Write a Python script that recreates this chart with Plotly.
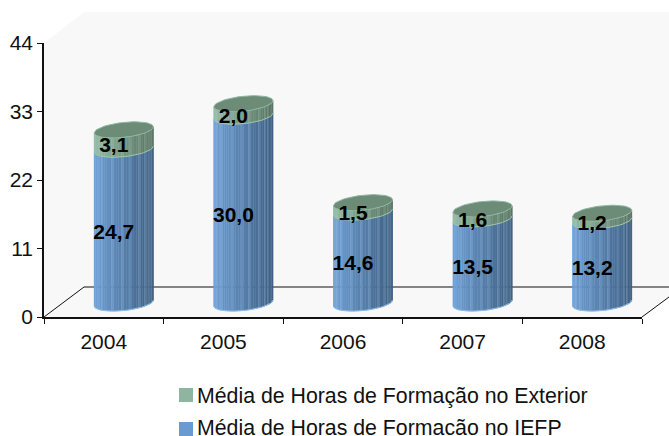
import math
import plotly.graph_objects as go

years = ["2004", "2005", "2006", "2007", "2008"]
iefp = [24.7, 30.0, 14.6, 13.5, 13.2]
exterior = [3.1, 2.0, 1.5, 1.6, 1.2]
value_labels_iefp = ["24,7", "30,0", "14,6", "13,5", "13,2"]
value_labels_ext = ["3,1", "2,0", "1,5", "1,6", "1,2"]
y_ticks = [0, 11, 22, 33, 44]
name_ext = "Média de Horas de Formação no Exterior"
name_iefp = "Média de Horas de Formacão no IEFP"
color_ext = "#8db5a0"
color_iefp = "#6a9bd0"

W, H = 669, 436
L, R, T, B = 44, 642, 43, 317
PX = (R - L) / 5          # pixels per category
PY = (B - T) / 44         # pixels per unit
ux = lambda p: p / PX
uy = lambda p: p / PY

CX_OFF, BASE_OFF = ux(20), uy(14)
RX, RY, SKEW = ux(29.5), uy(7.5), uy(3)
N = 36
STREAK = {3, 5, 8, 13, 17, 20, 24, 27, 29, 32}


def mix(a, b, t):
    return "#%02x%02x%02x" % tuple(round(a[k] + (b[k] - a[k]) * t) for k in range(3))


def pap(px, py):
    return px / W, 1 - py / H


def poly(points):
    d = ""
    for k, (px, py) in enumerate(points):
        a, b = pap(px, py)
        d += ("M" if k == 0 else "L") + f"{a:.5f},{b:.5f} "
    return d + "Z"


def seg(p, q):
    a, b = pap(*p)
    c, d = pap(*q)
    return dict(type="line", xref="paper", yref="paper", layer="below",
                line=dict(color="#111111", width=1), x0=a, y0=b, x1=c, y1=d)


def swatch(y_top, color):
    return dict(type="path", xref="paper", yref="paper", layer="above", line=dict(width=0),
                fillcolor=color,
                path=poly([(179, y_top), (193, y_top), (193, y_top + 14), (179, y_top + 14)]))


shapes = [
    dict(type="path", xref="paper", yref="paper", layer="below", line=dict(width=0),
         fillcolor="#f8f8f8", path=poly([(L, T), (84, 12), (669, 12), (669, 287), (84, 287), (L, B)])),
    dict(type="path", xref="paper", yref="paper", layer="below", line=dict(width=0),
         fillcolor="#f8f8f8", path=poly([(L, B), (84, 287), (669, 287), (669, 297), (R, B)])),
    seg((L, B), (84, 287)),
    seg((84, 287), (669, 287)),
    seg((R, B), (669, 297)),
    swatch(388, color_ext),
    swatch(422, color_iefp),
]

fig = go.Figure()
xmin, xmax = -0.5, 4.5

# cylinder sides: one trace per angular strip, left (light) to right (dark)
for layer in range(2):
    for i in range(N):
        t0 = math.pi - math.pi * i / N
        t1 = math.pi - math.pi * (i + 1) / N
        f = (1 + math.cos((t0 + t1) / 2)) / 2
        if layer == 0:
            col = mix((110, 160, 214), (62, 94, 128), f)
            light = (150, 190, 232)
        else:
            col = mix((146, 188, 165), (88, 114, 98), f)
            light = (160, 195, 175)
        if i in STREAK:
            col = mix(tuple(int(col[j:j + 2], 16) for j in (1, 3, 5)), light, 0.25)
        xs, ys = [], []
        for c in range(5):
            cx = c + CX_OFF
            y0 = BASE_OFF + (0 if layer == 0 else iefp[c])
            y1 = BASE_OFF + (iefp[c] if layer == 0 else iefp[c] + exterior[c])
            for yy, tt in ((y0, t0), (y0, t1), (y1, t1), (y1, t0), (y0, t0)):
                xs.append(cx + RX * math.cos(tt))
                ys.append(yy - RY * math.sin(tt) + SKEW * math.cos(tt))
            xs.append(None)
            ys.append(None)
        fig.add_trace(go.Scatter(x=xs, y=ys, mode="lines", fill="toself", fillcolor=col,
                                 line=dict(color=col, width=0.4), cliponaxis=False,
                                 showlegend=False, hoverinfo="skip"))

# seam and bottom outlines, top ellipses
TS = [2 * math.pi * k / 60 for k in range(61)]
FRONT = [math.pi + math.pi * k / 30 for k in range(31)]
for layer, colr in ((0, "#8fbce8"), (1, "#9cc7ae")):
    xs, ys = [], []
    for c in range(5):
        cx = c + CX_OFF
        y0 = BASE_OFF + (0 if layer == 0 else iefp[c])
        for t in FRONT:
            xs.append(cx + RX * math.cos(t))
            ys.append(y0 + RY * math.sin(t) + SKEW * math.cos(t))
        xs.append(None)
        ys.append(None)
    fig.add_trace(go.Scatter(x=xs, y=ys, mode="lines", line=dict(color=colr, width=1),
                             cliponaxis=False, showlegend=False, hoverinfo="skip"))

xs, ys = [], []
for c in range(5):
    cx = c + CX_OFF
    y1 = BASE_OFF + iefp[c] + exterior[c]
    for t in TS:
        xs.append(cx + RX * math.cos(t))
        ys.append(y1 + RY * math.sin(t) + SKEW * math.cos(t))
    xs.append(None)
    ys.append(None)
fig.add_trace(go.Scatter(x=xs, y=ys, mode="lines", fill="toself", fillcolor="#6c8c78",
                         line=dict(color="#8fb7a0", width=1), cliponaxis=False,
                         showlegend=False, hoverinfo="skip"))

# value labels
lab_x = [c + ux(10) for c in range(5)]
lab_font = dict(family="Liberation Sans", size=21, color="#000000", weight="bold")
fig.add_trace(go.Scatter(
    x=lab_x, y=[v / 2 + uy(6.5) for v in iefp], text=value_labels_iefp, mode="text",
    textfont=lab_font, cliponaxis=False, showlegend=False, hoverinfo="skip"))
fig.add_trace(go.Scatter(
    x=lab_x, y=[a + b / 2 + uy(6.5) for a, b in zip(iefp, exterior)],
    text=value_labels_ext, mode="text",
    textfont=lab_font, cliponaxis=False, showlegend=False, hoverinfo="skip"))

# legend entries: swatches are drawn at the reference spot by the shapes above
fig.add_trace(go.Scatter(x=[None], y=[None], mode="markers", name=name_ext, legendgroup="a",
                         marker=dict(symbol="square", size=1, color="white")))
fig.add_trace(go.Scatter(x=[None], y=[None], mode="markers", name=name_iefp, legendgroup="b",
                         marker=dict(symbol="square", size=1, color="white")))

fig.update_layout(
    width=W, height=H, autosize=False,
    margin=dict(l=0, r=0, t=0, b=0, autoexpand=False),
    paper_bgcolor="white", plot_bgcolor="rgba(0,0,0,0)",
    font=dict(family="Liberation Sans", size=21, color="#111111"),
    shapes=shapes,
    xaxis=dict(domain=[pap(L, B)[0], pap(R, B)[0]], range=[xmin, xmax], tickvals=list(range(5)),
               ticktext=years, ticks="", showgrid=False, zeroline=False, showline=True,
               linecolor="#111111", linewidth=1.5, ticklabelstandoff=5, automargin=False,
               minor=dict(tickvals=[-0.5, 0.5, 1.5, 2.5, 3.5, 4.5], ticks="outside", ticklen=5,
                          tickcolor="#111111", tickwidth=1, showgrid=False)),
    yaxis=dict(domain=[pap(L, B)[1], pap(L, T)[1]], range=[0, 44], tickvals=y_ticks, ticks="outside",
               ticklen=5, tickcolor="#111111", showgrid=False, zeroline=False, showline=True,
               linecolor="#111111", linewidth=1.5, automargin=False),
    legend=dict(x=pap(172, 0)[0], y=pap(0, 374)[1], xanchor="left", yanchor="top",
                font=dict(size=21.3), tracegroupgap=2, indentation=-15, bgcolor="rgba(0,0,0,0)",
                maxheight=100, itemclick=False, itemdoubleclick=False),
    showlegend=True,
)
fig.write_html("out.html", config=dict(displayModeBar=False),
               post_script="document.body.style.margin='0';document.body.style.overflow='hidden';")
